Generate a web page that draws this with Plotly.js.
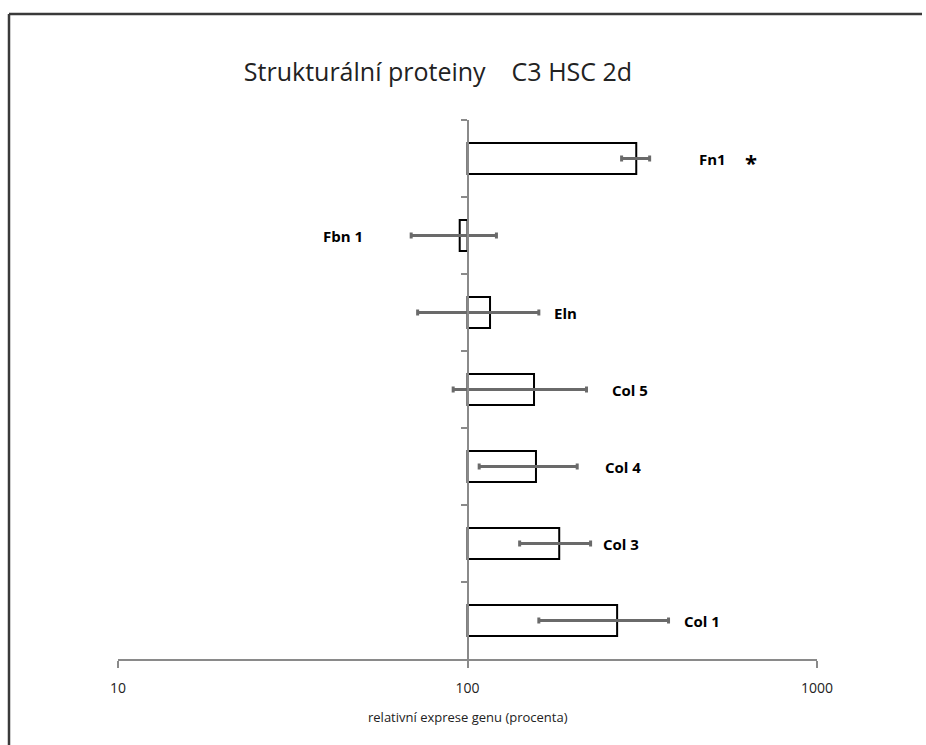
<!DOCTYPE html>
<html>
<head>
<meta charset="utf-8">
<script src="https://cdn.plot.ly/plotly-3.0.1.min.js"></script>
<style>html,body{margin:0;padding:0;background:#fff;overflow:hidden;}#chart{width:926px;height:745px;}</style>
</head>
<body>
<div id="chart"></div>
<script>
// ---- data ----
const categories = ['Fn1', 'Fbn 1', 'Eln', 'Col 5', 'Col 4', 'Col 3', 'Col 1'];
const values     = [304, 95, 116, 155, 157, 183, 268];   // relative expression (%)
const errors     = [28, 26, 44, 64, 49, 42, 108];
const baseline   = 100;
const xTickVals  = [10, 100, 1000];
const xTickText  = ['10', '100', '1000'];
const significant = ['Fn1'];
// label anchor (in axis value units) and side, as placed manually in the original
const labelAt    = [453, 51, 174, 255, 244, 241, 410];
const labelSide  = ['left', 'right', 'left', 'left', 'left', 'left', 'left'];
const starAt     = 648;

const labelFont = {family: 'Open Sans, Liberation Sans, sans-serif', size: 15, color: '#000'};

const bars = {
  type: 'bar', orientation: 'h',
  y: categories,
  x: values.map(v => v - baseline),
  base: baseline,
  width: 0.4,
  marker: {color: '#ffffff', line: {color: '#000000', width: 2}},
  hoverinfo: 'skip', showlegend: false
};
const errs = {
  type: 'scatter', mode: 'markers',
  y: categories, x: values,
  marker: {size: 1, opacity: 0},
  error_x: {type: 'data', array: errors, visible: true, color: '#6a6a6a', thickness: 3, width: 3},
  hoverinfo: 'skip', showlegend: false
};

const annotations = categories.map((c, i) => ({
  xref: 'x', yref: 'y', x: Math.log10(labelAt[i]), y: c,
  text: '<b>' + c + '</b>', showarrow: false,
  xanchor: labelSide[i], yanchor: 'middle', font: labelFont
}));
significant.forEach(c => annotations.push({
  xref: 'x', yref: 'y', x: Math.log10(starAt), y: c, yshift: -3,
  text: '<b>*</b>', showarrow: false, xanchor: 'center', yanchor: 'middle',
  font: {family: 'Open Sans, sans-serif', size: 22, color: '#000'}
}));
annotations.push({
  xref: 'paper', yref: 'paper', x: 0.5, y: 0, yshift: -58,
  text: 'relativní exprese genu (procenta)', showarrow: false,
  xanchor: 'center', yanchor: 'middle',
  font: {family: 'Open Sans, Liberation Sans, sans-serif', size: 13, color: '#222'}
});

const layout = {
  width: 926, height: 745,
  margin: {l: 118, r: 109, t: 120, b: 86},
  paper_bgcolor: '#ffffff', plot_bgcolor: '#ffffff',
  title: {
    text: 'Strukturální proteiny\u00A0\u00A0\u00A0 C3 HSC 2d',
    xref: 'container', yref: 'container', x: 438/926, y: 1 - 72/745,
    xanchor: 'center', yanchor: 'middle',
    font: {family: 'Open Sans, Liberation Sans, sans-serif', size: 25, color: '#222'}
  },
  xaxis: {
    type: 'log', range: [1, 3],
    tickmode: 'array', tickvals: xTickVals, ticktext: xTickText,
    showgrid: false, zeroline: false,
    showline: true, linecolor: '#8a8a8a', linewidth: 2,
    ticks: 'outside', ticklen: 7, tickcolor: '#8a8a8a', tickwidth: 2,
    ticklabelstandoff: 8,
    tickfont: {family: 'Open Sans, Liberation Sans, sans-serif', size: 14, color: '#222'},
    fixedrange: true
  },
  yaxis: {
    type: 'category', categoryorder: 'array', categoryarray: categories,
    range: [6.5, -0.5],
    anchor: 'free', position: 0.5,
    showline: true, linecolor: '#8a8a8a', linewidth: 2,
    ticks: 'outside', tickson: 'boundaries', ticklen: 6, tickcolor: '#8a8a8a', tickwidth: 2,
    showticklabels: false, showgrid: false, zeroline: false,
    fixedrange: true
  },
  annotations: annotations,
  shapes: [
    {type: 'line', xref: 'paper', yref: 'paper',
     x0: -109/699, x1: 804/699, y0: 1 + 106/539, y1: 1 + 106/539,
     line: {color: '#3a3a3a', width: 2.5}, layer: 'below'},
    {type: 'line', xref: 'paper', yref: 'paper',
     x0: -109/699, x1: -109/699, y0: 1 + 106/539, y1: -88/539,
     line: {color: '#3a3a3a', width: 2.5}, layer: 'below'}
  ],
  showlegend: false
};

Plotly.newPlot('chart', [bars, errs], layout, {displayModeBar: false, staticPlot: true});
</script>
</body>
</html>
